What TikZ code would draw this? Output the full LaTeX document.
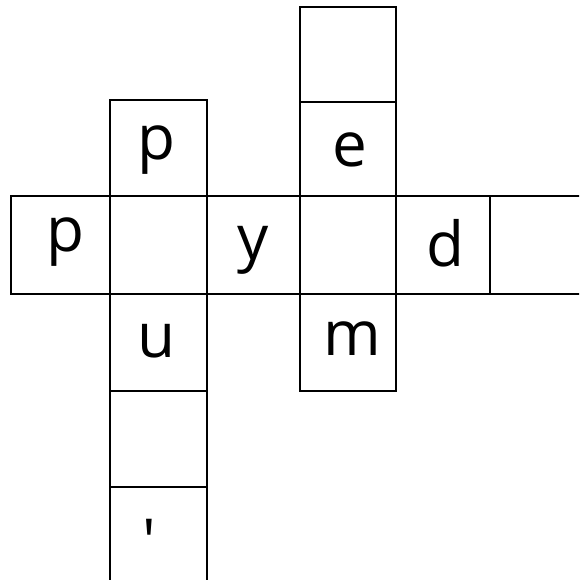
\documentclass[tikz,border=0pt]{standalone}
\usepackage{fontspec}
\setmainfont{Open Sans}
\begin{document}
\begin{tikzpicture}[x=1pt,y=-1pt,
  cell/.style={draw=black,line width=2.2pt},
  letter/.style={inner sep=0pt,anchor=base,font=\fontsize{62}{70}\selectfont}]
\useasboundingbox (0,0) rectangle (579,580);
\clip (0,0) rectangle (579,580);
% horizontal word
\draw[cell] (11,196) rectangle (110,294);
\draw[cell] (110,196) rectangle (207,294);
\draw[cell] (207,196) rectangle (300,294);
\draw[cell] (300,196) rectangle (396,294);
\draw[cell] (396,196) rectangle (490,294);
\draw[cell] (600,196) -- (490,196) -- (490,294) -- (600,294);
% vertical word 1
\draw[cell] (110,100) rectangle (207,196);
\draw[cell] (110,294) rectangle (207,391);
\draw[cell] (110,391) rectangle (207,487);
\draw[cell] (110,600) -- (110,487) -- (207,487) -- (207,600);
% vertical word 2
\draw[cell] (300,7) rectangle (396,102);
\draw[cell] (300,102) rectangle (396,196);
\draw[cell] (300,294) rectangle (396,391);
% letters
\node[letter] (h1) at (65,251) {p};
\node[letter] (h3) at (253,259) {y};
\node[letter] (h5) at (445,266) {d};
\node[letter] (v1) at (156,160) {p};
\node[letter] (v3) at (157,357) {u};
\node[letter] (v5) at (149,563) {\textquotesingle};
\node[letter] (w2) at (350,167) {e};
\node[letter] (w4) at (352,355) {m};
\end{tikzpicture}
\end{document}
